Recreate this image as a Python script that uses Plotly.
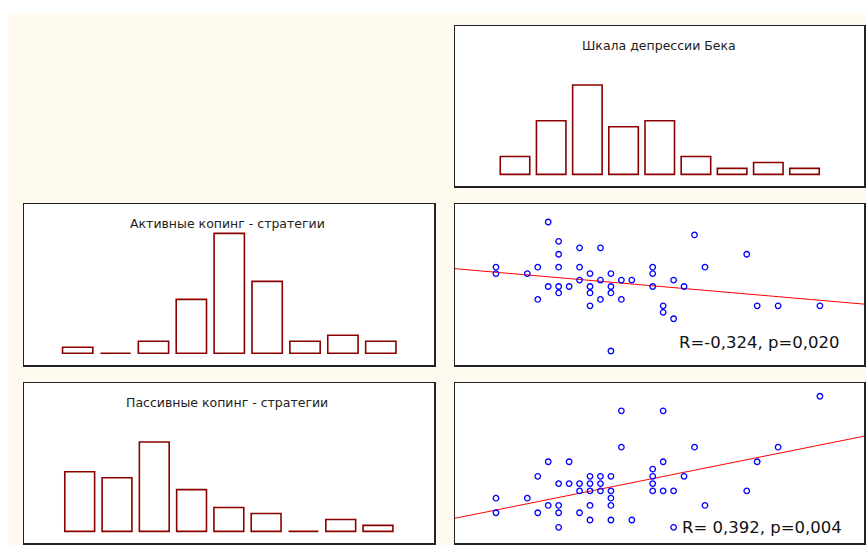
import plotly.graph_objects as go

W, H = 866, 545

# ---------------- data ----------------
hist_bins = [1, 2, 3, 4, 5, 6, 7, 8, 9]
beck_counts = [3, 9, 15, 8, 9, 3, 1, 2, 1]
active_counts = [1, 0, 2, 9, 20, 12, 2, 3, 2]
passive_counts = [10, 9, 15, 7, 4, 3, 0, 2, 1]

title_beck = "Шкала депрессии Бека"
title_active = "Активные копинг - стратегии"
title_passive = "Пассивные копинг - стратегии"

# Beck score vs active coping (relative scale)
beck_a = [5, 19, 6, 8, 10, 6, 24,
          0, 4, 6, 8, 15, 20,
          0, 3, 9, 11, 15,
          8, 10, 12, 13, 17,
          5, 6, 7, 9, 11, 15, 18,
          6, 9, 11,
          4, 10, 12,
          9, 16, 25, 27, 31,
          16, 17, 11]
active = [20, 18, 17, 16, 16, 15, 15,
          13, 13, 13, 13, 13, 13,
          12, 12, 12, 12, 12,
          11, 11, 11, 11, 11,
          10, 10, 10, 10, 10, 10, 10,
          9, 9, 9,
          8, 8, 8,
          7, 7, 7, 7, 7,
          6, 5, 0]

# Beck score vs passive coping (relative scale)
beck_p = [31, 12, 16, 12, 19, 27,
          5, 7, 16, 25, 15,
          4, 9, 10, 11, 15, 18,
          6, 7, 8, 9, 10, 15,
          8, 9, 10, 11, 15, 16, 17, 24,
          0, 3, 11,
          5, 6, 9, 11, 20,
          0, 4, 6, 8,
          9, 11, 13,
          6, 17]
passive = [18, 16, 16, 11, 11, 11,
           9, 9, 9, 9, 8,
           7, 7, 7, 7, 7, 7,
           6, 6, 6, 6, 6, 6,
           5, 5, 5, 5, 5, 5, 5, 5,
           4, 4, 4,
           3, 3, 3, 3, 3,
           2, 2, 2, 2,
           1, 1, 1,
           0, 0]

# regression lines: intercept, slope
fit_active = [12.21, -0.1403]
fit_passive = [2.37, 0.288]
stat_active = "R=-0,324, p=0,020"
stat_passive = "R= 0,392, p=0,004"

# ---------------- styling ----------------
BAR_COLOR = "#8B0000"
PT_COLOR = "#0000FF"
LINE_COLOR = "#FF0000"
BG = "#FFFAF0"
FONT = "DejaVu Sans"


def px_x(p):
    return p / W


def px_y(p):
    return 1 - p / H


fig = go.Figure()

# histograms
def add_hist(counts, axis_id, width):
    fig.add_trace(go.Bar(
        x=hist_bins, y=counts, width=width,
        marker=dict(color="white", line=dict(color=BAR_COLOR, width=1.6)),
        xaxis="x" + axis_id, yaxis="y" + axis_id,
        showlegend=False, hoverinfo="skip"))

add_hist(beck_counts, "", 0.815)
add_hist(active_counts, "2", 0.80)
add_hist(passive_counts, "4", 0.80)

x_lo, x_hi = -3.92, 35.22

def add_scatter(xs, ys, fit, axis_id):
    fig.add_trace(go.Scatter(
        x=[x_lo, x_hi],
        y=[fit[0] + fit[1] * x_lo, fit[0] + fit[1] * x_hi],
        mode="lines", line=dict(color=LINE_COLOR, width=1),
        xaxis="x" + axis_id, yaxis="y" + axis_id,
        showlegend=False, hoverinfo="skip"))
    fig.add_trace(go.Scatter(
        x=xs, y=ys, mode="markers",
        marker=dict(symbol="circle-open", size=5.5, color=PT_COLOR,
                    line=dict(width=1.3, color=PT_COLOR)),
        xaxis="x" + axis_id, yaxis="y" + axis_id,
        showlegend=False))

add_scatter(beck_a, active, fit_active, "3")
add_scatter(beck_p, passive, fit_passive, "5")


def axis(dom, rng, anchor):
    return dict(domain=dom, range=rng, anchor=anchor,
                showgrid=False, zeroline=False, showticklabels=False,
                ticks="", showline=True, mirror=True,
                linecolor="#222222", linewidth=1.5, fixedrange=True)

# pixel boxes
L = (24, 434)
R = (455, 864)
ROW1 = (26, 186)
ROW2 = (204, 365)
ROW3 = (383, 543)

def xd(b):
    return [px_x(b[0]), px_x(b[1])]

def yd(b):
    return [px_y(b[1]), px_y(b[0])]

hist_y = [-1.95, 24.9]

layout = dict(
    width=W, height=H,
    margin=dict(l=0, r=0, t=0, b=0),
    paper_bgcolor=BG, plot_bgcolor="white",
    bargap=0,
    xaxis=axis(xd(R), [-0.658, 10.644], "y"),
    yaxis=axis(yd(ROW1), hist_y, "x"),
    xaxis2=axis(xd(L), [-0.417, 10.404], "y2"),
    yaxis2=axis(yd(ROW2), hist_y, "x2"),
    xaxis3=axis(xd(R), [x_lo, x_hi], "y3"),
    yaxis3=axis(yd(ROW2), [-2.17, 22.79], "x3"),
    xaxis4=axis(xd(L), [-0.494, 10.502], "y4"),
    yaxis4=axis(yd(ROW3), hist_y, "x4"),
    xaxis5=axis(xd(R), [x_lo, x_hi], "y5"),
    yaxis5=axis(yd(ROW3), [-2.157, 19.82], "x5"),
    font=dict(family=FONT, color="#222222"),
    shapes=[
        dict(type="rect", xref="paper", yref="paper", x0=0, x1=1,
             y0=px_y(13), y1=1, fillcolor="white", line=dict(width=0),
             layer="below"),
        dict(type="rect", xref="paper", yref="paper", x0=0, x1=px_x(8),
             y0=0, y1=1, fillcolor="white", line=dict(width=0),
             layer="below"),
    ],
    annotations=[
        dict(text=title_beck, xref="paper", yref="paper",
             x=px_x(659), y=px_y(45.5), xanchor="center", yanchor="middle",
             showarrow=False, font=dict(size=12.5, family=FONT, color="#222")),
        dict(text=title_active, xref="paper", yref="paper",
             x=px_x(227), y=px_y(223), xanchor="center", yanchor="middle",
             showarrow=False, font=dict(size=12.5, family=FONT, color="#222")),
        dict(text=title_passive, xref="paper", yref="paper",
             x=px_x(227), y=px_y(402), xanchor="center", yanchor="middle",
             showarrow=False, font=dict(size=12.5, family=FONT, color="#222")),
        dict(text=stat_active, xref="paper", yref="paper",
             x=px_x(842), y=px_y(342), xanchor="right", yanchor="middle",
             showarrow=False, font=dict(size=16.5, family=FONT, color="#111")),
        dict(text=stat_passive, xref="paper", yref="paper",
             x=px_x(844), y=px_y(527.8), xanchor="right", yanchor="middle",
             showarrow=False, font=dict(size=16.5, family=FONT, color="#111")),
    ],
)
fig.update_layout(**layout)

fig.write_html(
    "out.html",
    config=dict(displayModeBar=False, staticPlot=True),
    post_script="document.body.style.margin='0';document.body.style.overflow='hidden';",
)
